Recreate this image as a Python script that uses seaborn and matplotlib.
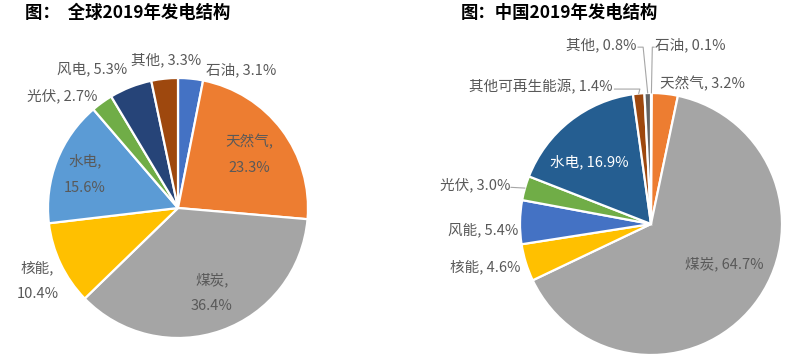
import matplotlib
matplotlib.use('Agg')
import matplotlib.pyplot as plt
import numpy as np
import seaborn as sns

# 数据：全球2019年发电结构（从12点方向顺时针）
world_cats = ['石油', '天然气', '煤炭', '核能', '水电', '光伏', '风电', '其他']
world_vals = [3.1, 23.3, 36.4, 10.4, 15.6, 2.7, 5.3, 3.3]
world_colors = ['#4472C4', '#ED7D31', '#A5A5A5', '#FFC000', '#5B9BD5', '#70AD47', '#264478', '#9E480E']

# 数据：中国2019年发电结构
china_cats = ['石油', '天然气', '煤炭', '核能', '风能', '光伏', '水电', '其他可再生能源', '其他']
china_vals = [0.1, 3.2, 64.7, 4.6, 5.4, 3.0, 16.9, 1.4, 0.8]
china_colors = ['#7F7F7F', '#ED7D31', '#A5A5A5', '#FFC000', '#4472C4', '#70AD47', '#255E91', '#9E480E', '#636363']

# 标签位置（以饼图半径为单位）：x, y, 对齐, 是否换行
world_label_pos = [(0.485, 1.06, 'center', False), (0.55, 0.41, 'center', True),
                   (0.26, -0.65, 'center', True), (-1.08, -0.56, 'center', True),
                   (-0.715, 0.26, 'center', True), (-0.89, 0.86, 'center', False),
                   (-0.66, 1.07, 'center', False), (-0.09, 1.14, 'center', False)]

china_label_pos = [(0.03, 1.365, 'left'), (0.07, 1.075, 'left'), (0.557, -0.305, 'center'),
                   (-1.0, -0.328, 'right'), (-1.015, -0.046, 'right'), (-1.076, 0.298, 'right'),
                   (-0.473, 0.473, 'center'), (-0.29, 1.046, 'right'), (-0.107, 1.365, 'right')]

TEXT = '#595959'
LINE = '#A6A6A6'

sns.set_theme(style='white')
plt.rcParams['font.family'] = ['Noto Sans CJK SC', 'DejaVu Sans']

fig = plt.figure(figsize=(8.02, 3.6), dpi=100)
ax1 = fig.add_axes([48 / 802, 22 / 360, 260 / 802, 260 / 360])
ax2 = fig.add_axes([520 / 802, 5 / 360, 262 / 802, 262 / 360])


def draw_pie(ax, vals, colors):
    wedges, _ = ax.pie(vals, colors=colors, startangle=90, counterclock=False,
                       wedgeprops=dict(edgecolor='white', linewidth=1.6))
    ax.set_xlim(-1, 1)
    ax.set_ylim(-1, 1)
    ax.axis('off')
    return wedges


def rim_point(wedge, r=1.0):
    ang = np.deg2rad((wedge.theta1 + wedge.theta2) / 2)
    return r * np.cos(ang), r * np.sin(ang)


# 左图
w1 = draw_pie(ax1, world_vals, world_colors)
for cat, v, (x, y, ha, two) in zip(world_cats, world_vals, world_label_pos):
    sep = ',\n' if two else ', '
    ax1.text(x, y, f'{cat}{sep}{v:.1f}%', ha=ha, va='center', fontsize=10.5,
             color=TEXT, linespacing=2.1)

# 右图
w2 = draw_pie(ax2, china_vals, china_colors)
for cat, v, (x, y, ha) in zip(china_cats, china_vals, china_label_pos):
    col = 'white' if cat == '水电' else TEXT
    ax2.text(x, y, f'{cat}, {v:.1f}%', ha=ha, va='center', fontsize=10.5, color=col)

# 引导线
px, py = rim_point(w2[0])
ax2.plot([px, 0.01, 0.025], [py, 1.35, 1.35], color=LINE, lw=0.8, clip_on=False)
px, py = rim_point(w2[8])
ax2.plot([px, -0.06, -0.1], [py, 1.35, 1.35], color=LINE, lw=0.8, clip_on=False)
px, py = rim_point(w2[7])
ax2.plot([px, -0.085, -0.28], [py, 1.03, 1.03], color=LINE, lw=0.8, clip_on=False)
px, py = rim_point(w2[5])
ax2.plot([px, -1.07], [py, 0.28], color=LINE, lw=0.8, clip_on=False)

fig.text(25 / 802, 1 - 13 / 360, '图：  全球2019年发电结构', ha='left', va='center',
         fontsize=12.5, fontweight='bold', color='black')
fig.text(461 / 802, 1 - 13 / 360, '图：中国2019年发电结构', ha='left', va='center',
         fontsize=12.5, fontweight='bold', color='black')

fig.savefig('out.png', dpi=100)
